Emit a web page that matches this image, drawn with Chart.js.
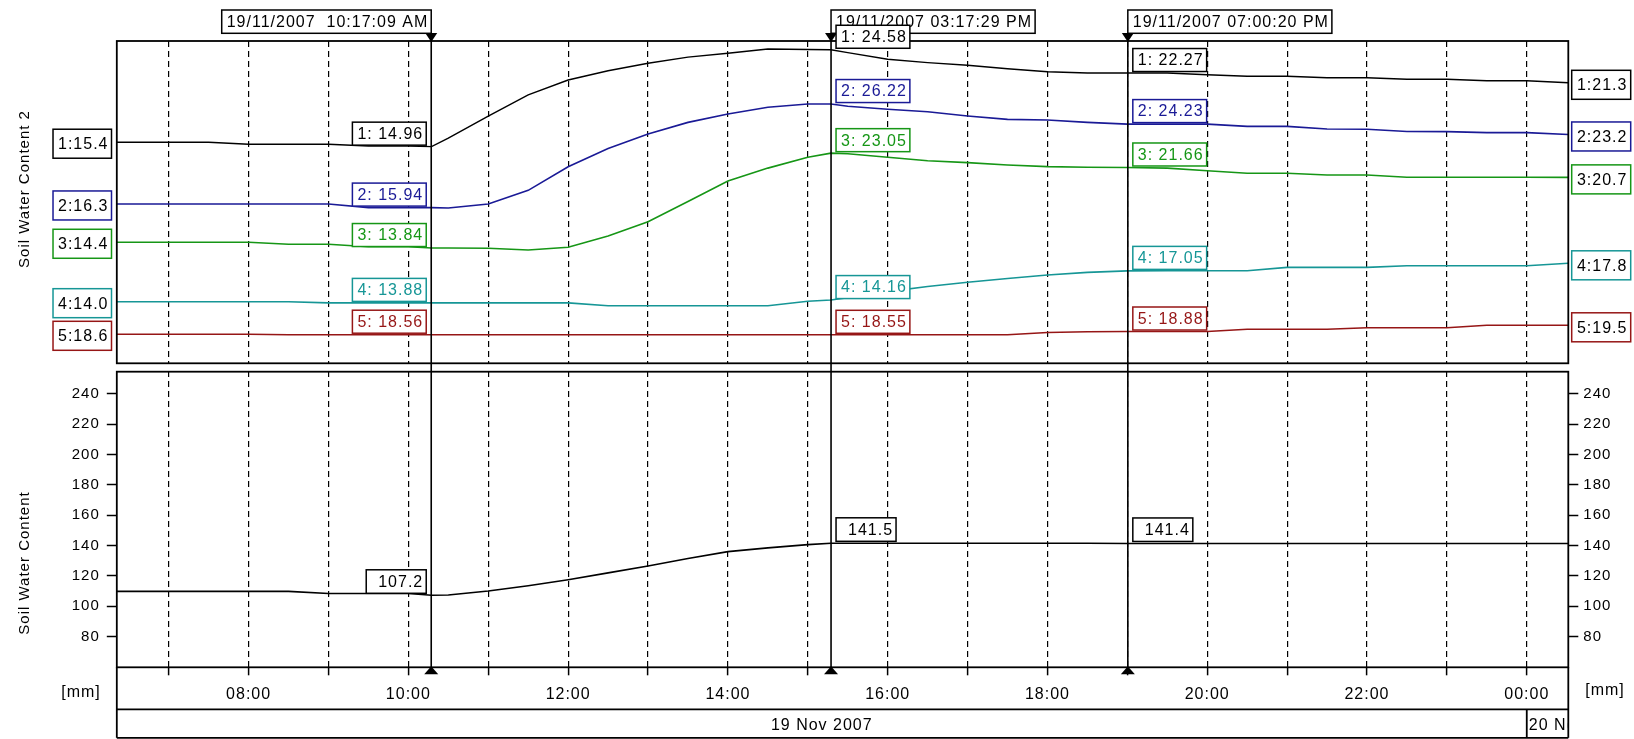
<!DOCTYPE html>
<html>
<head>
<meta charset="utf-8">
<script src="https://cdn.jsdelivr.net/npm/chart.js@4.4.1/dist/chart.umd.min.js"></script>
<style>
  html, body { margin: 0; padding: 0; background: #fff; }
  #wrap { position: relative; width: 1634px; height: 739px; overflow: hidden; }
  canvas { display: block; }
</style>
</head>
<body>
<div id="wrap"><canvas id="c" width="1634" height="739"></canvas></div>
<script>
// ---------------- data ----------------
const hours = [6.35, 7, 7.5, 8, 8.5, 9, 9.5, 10, 10.29, 10.5, 11, 11.5, 12, 12.5, 13, 13.5, 14, 14.5, 15, 15.29,
  15.5, 16, 16.5, 17, 17.5, 18, 18.5, 19, 19.5, 20, 20.5, 21, 21.5, 22, 22.5, 23, 23.5, 24, 24.52];

const sensor1 = [15.4, 15.4, 15.4, 15.2, 15.2, 15.2, 15.03, 15.03, 14.96, 15.8, 18.0, 20.1, 21.58, 22.5, 23.24, 23.85, 24.24, 24.65, 24.6, 24.58,
  24.3, 23.64, 23.3, 23.04, 22.7, 22.4, 22.27, 22.27, 22.27, 22.1, 21.95, 21.95, 21.8, 21.8, 21.65, 21.65, 21.5, 21.5, 21.3];
const sensor2 = [16.3, 16.3, 16.3, 16.3, 16.3, 16.3, 15.94, 15.94, 15.94, 15.9, 16.3, 17.65, 20.0, 21.8, 23.25, 24.4, 25.24, 25.9, 26.23, 26.22,
  26.0, 25.7, 25.45, 25.04, 24.7, 24.64, 24.4, 24.23, 24.23, 24.23, 24.0, 24.0, 23.75, 23.72, 23.5, 23.48, 23.38, 23.38, 23.2];
const sensor3 = [14.4, 14.4, 14.4, 14.4, 14.21, 14.21, 13.97, 13.97, 13.84, 13.84, 13.82, 13.65, 13.91, 15.0, 16.4, 18.35, 20.35, 21.6, 22.65, 23.05,
  23.0, 22.65, 22.32, 22.13, 21.9, 21.74, 21.68, 21.66, 21.6, 21.35, 21.1, 21.1, 20.93, 20.93, 20.71, 20.71, 20.71, 20.71, 20.7];
const sensor4 = [14.0, 14.0, 14.0, 14.0, 14.0, 13.88, 13.88, 13.88, 13.88, 13.88, 13.88, 13.88, 13.88, 13.6, 13.6, 13.6, 13.6, 13.6, 14.05, 14.16,
  14.4, 15.0, 15.5, 15.92, 16.3, 16.64, 16.9, 17.05, 17.07, 17.07, 17.07, 17.4, 17.4, 17.4, 17.56, 17.56, 17.56, 17.56, 17.8];
const sensor5 = [18.6, 18.6, 18.6, 18.6, 18.56, 18.56, 18.56, 18.56, 18.56, 18.56, 18.56, 18.56, 18.56, 18.56, 18.55, 18.55, 18.55, 18.55, 18.55, 18.55,
  18.55, 18.55, 18.55, 18.55, 18.55, 18.78, 18.85, 18.88, 18.88, 18.88, 19.1, 19.1, 19.1, 19.26, 19.26, 19.26, 19.5, 19.5, 19.5];
const soilWater = [109.8, 109.8, 109.8, 109.8, 109.8, 108.4, 108.4, 108.4, 107.2, 107.4, 110.0, 113.5, 117.5, 122.0, 126.5, 131.5, 136.0, 138.5, 140.6, 141.5,
  141.5, 141.5, 141.5, 141.5, 141.5, 141.5, 141.5, 141.4, 141.4, 141.4, 141.4, 141.4, 141.4, 141.4, 141.4, 141.4, 141.4, 141.4, 141.4];

const hourTicks = [7, 8, 9, 10, 11, 12, 13, 14, 15, 16, 17, 18, 19, 20, 21, 22, 23, 24];
const swcTicks = [80, 100, 120, 140, 160, 180, 200, 220, 240];

const cursorHours = [10.286, 15.291, 19.006];
const cursorStamps = ['19/11/2007  10:17:09 AM', '19/11/2007 03:17:29 PM', '19/11/2007 07:00:20 PM'];
const cursorSensor1 = [14.96, 24.58, 22.27];
const cursorSensor2 = [15.94, 26.22, 24.23];
const cursorSensor3 = [13.84, 23.05, 21.66];
const cursorSensor4 = [13.88, 14.16, 17.05];
const cursorSensor5 = [18.56, 18.55, 18.88];
const cursorSoil = [107.2, 141.5, 141.4];
const startLabels = ['15.4', '16.3', '14.4', '14.0', '18.6'];
const endLabels = ['21.3', '23.2', '20.7', '17.8', '19.5'];
const dayLabels = ['19 Nov 2007', '20 Nov 2007'];

// value window of each upper sensor inside the upper panel, and of the lower panel
const sensorWindows = [[-6.55, 25.45], [0.48, 32.48], [2.65, 33.94], [7.90, 39.81], [15.7, 47.93]];
const soilWindow = [59.7, 254.7];
const timeWindow = [6.35, 24.52];

// ---------------- style / layout ----------------
const FONT = '"Liberation Sans", Arial, sans-serif';
const SPACING = '1px';
const sensorColors = ['#000000', '#1a1a96', '#169616', '#169696', '#961616'];
const G = { W: 1634, H: 739, left: 116.8, right: 1568.3, top: 41, upperBottom: 363.3, lowerTop: 371.7,
  bottom: 667.3, rowMid: 709.3, rowBottom: 737.8 };

function upperRange(w) {
  const k = (G.bottom - G.upperBottom) / (G.upperBottom - G.top);
  return { min: w[0] - k * (w[1] - w[0]), max: w[1] };
}
function lowerRange(w) {
  const k = (G.lowerTop - G.top) / (G.bottom - G.lowerTop);
  return { min: w[0], max: w[1] + k * (w[1] - w[0]) };
}

Chart.defaults.font.family = FONT;
Chart.defaults.color = '#000';

const sensorSeries = [sensor1, sensor2, sensor3, sensor4, sensor5];
const cursorSensor = [cursorSensor1, cursorSensor2, cursorSensor3, cursorSensor4, cursorSensor5];

const datasets = sensorSeries.map((vals, k) => ({
  data: hours.map((h, i) => ({ x: h, y: vals[i] })),
  yAxisID: 'u' + (k + 1),
  borderColor: sensorColors[k],
  borderWidth: k === 0 ? 1.4 : 1.6,
  pointRadius: 0, tension: 0, fill: false
}));
datasets.push({
  data: hours.map((h, i) => ({ x: h, y: soilWater[i] })),
  yAxisID: 'y', borderColor: '#000', borderWidth: 1.6, pointRadius: 0, tension: 0, fill: false
});

const lr = lowerRange(soilWindow);
const scales = {
  x: {
    type: 'linear', position: 'bottom', min: timeWindow[0], max: timeWindow[1],
    afterFit: s => { s.height = G.H - G.bottom; },
    afterBuildTicks: s => { s.ticks = hourTicks.map(v => ({ value: v })); },
    ticks: {
      autoSkip: false, maxRotation: 0, minRotation: 0, padding: 10, color: '#000', font: { size: 16 },
      callback: v => (v % 2 === 0 ? String(v % 24).padStart(2, '0') + ':00' : '')
    },
    grid: { color: '#000', lineWidth: 1.2, drawOnChartArea: true, drawTicks: true, tickLength: 8, tickColor: '#000', tickWidth: 1.5 },
    border: { display: false, dash: [6, 4] }
  },
  y: {
    type: 'linear', position: 'left', min: lr.min, max: lr.max,
    afterFit: s => { s.width = G.left; },
    afterBuildTicks: s => { s.ticks = swcTicks.map(v => ({ value: v })); },
    ticks: { padding: 7, color: '#000', font: { size: 15 } },
    grid: { drawOnChartArea: false, drawTicks: true, tickLength: 10, tickColor: '#000', tickWidth: 1.5 },
    border: { display: false }
  },
  y2: {
    type: 'linear', position: 'right', min: lr.min, max: lr.max,
    afterFit: s => { s.width = G.W - G.right; },
    afterBuildTicks: s => { s.ticks = swcTicks.map(v => ({ value: v })); },
    ticks: { padding: 5, color: '#000', font: { size: 15 } },
    grid: { drawOnChartArea: false, drawTicks: true, tickLength: 10, tickColor: '#000', tickWidth: 1.5 },
    border: { display: false }
  }
};
sensorWindows.forEach((w, k) => {
  const r = upperRange(w);
  scales['u' + (k + 1)] = { type: 'linear', display: false, position: 'left', min: r.min, max: r.max };
});

// ---------------- drawing helpers ----------------
function seg(ctx, x1, y1, x2, y2) { ctx.beginPath(); ctx.moveTo(x1, y1); ctx.lineTo(x2, y2); ctx.stroke(); }
function labelBox(ctx, str, x, yTop, h, anchor, boxColor, textColor, minW, align) {
  const tw = ctx.measureText(str).width;
  const w = Math.max(tw + 8, minW || 0);
  const bx = anchor === 'right' ? x - w : x;
  ctx.fillStyle = '#fff';
  ctx.fillRect(bx, yTop, w, h);
  ctx.strokeStyle = boxColor; ctx.lineWidth = 1.5;
  ctx.strokeRect(bx, yTop, w, h);
  ctx.fillStyle = textColor; ctx.textBaseline = 'middle';
  if (align === 'right') { ctx.textAlign = 'right'; ctx.fillText(str, bx + w - 3, yTop + h / 2 + 1); }
  else { ctx.textAlign = 'left'; ctx.fillText(str, bx + (w - tw) / 2 + 1, yTop + h / 2 + 1); }
}

const overlay = {
  id: 'overlay',
  beforeDraw(chart) {
    const c = chart.ctx;
    c.save(); c.fillStyle = '#fff'; c.fillRect(0, 0, chart.width, chart.height); c.restore();
    c.letterSpacing = SPACING;
  },
  beforeDatasetsDraw(chart) {
    const c = chart.ctx;
    c.save(); c.fillStyle = '#fff';
    c.fillRect(G.left - 1, G.upperBottom, G.right - G.left + 2, G.lowerTop - G.upperBottom);
    c.restore();
  },
  afterDraw(chart) {
    const ctx = chart.ctx, xs = chart.scales.x;
    ctx.save();
    ctx.letterSpacing = SPACING;
    ctx.strokeStyle = '#000'; ctx.lineWidth = 1.8;
    const L = G.left, R = G.right;
    // frames
    ctx.strokeRect(L, G.top, R - L, G.upperBottom - G.top);
    ctx.strokeRect(L, G.lowerTop, R - L, G.bottom - G.lowerTop);
    seg(ctx, L, G.bottom, L, G.rowBottom);
    seg(ctx, R, G.bottom, R, G.rowBottom);
    seg(ctx, L, G.rowMid, R, G.rowMid);
    seg(ctx, L, G.rowBottom, R, G.rowBottom);
    const xDay = xs.getPixelForValue(24);
    seg(ctx, xDay, G.rowMid, xDay, G.rowBottom);

    ctx.font = '16px ' + FONT; ctx.fillStyle = '#000'; ctx.textBaseline = 'middle';
    ctx.textAlign = 'center';
    ctx.fillText(dayLabels[0], (L + xDay) / 2, 726);
    ctx.save();
    ctx.beginPath(); ctx.rect(xDay + 1, G.rowMid + 1, R - xDay - 2, G.rowBottom - G.rowMid - 2); ctx.clip();
    ctx.textAlign = 'left';
    ctx.fillText(dayLabels[1], xDay + 2, 726);
    ctx.restore();

    // units
    ctx.textAlign = 'center';
    ctx.fillText('[mm]', 81, 693);
    ctx.fillText('[mm]', 1605, 691);

    // axis titles
    ctx.font = '15px ' + FONT;
    [['Soil Water Content 2', 189], ['Soil Water Content', 563]].forEach(([t, cy]) => {
      ctx.save(); ctx.translate(25, cy); ctx.rotate(-Math.PI / 2);
      ctx.textAlign = 'center'; ctx.textBaseline = 'middle'; ctx.fillText(t, 0, 0);
      ctx.restore();
    });

    // cursors
    ctx.strokeStyle = '#000'; ctx.lineWidth = 1.6; ctx.fillStyle = '#000';
    cursorHours.forEach(t => {
      const x = xs.getPixelForValue(t);
      seg(ctx, x, G.top, x, G.bottom);
      ctx.beginPath(); ctx.moveTo(x - 6, G.top - 8); ctx.lineTo(x + 6, G.top - 8); ctx.lineTo(x, G.top + 1); ctx.closePath(); ctx.fill();
      ctx.beginPath(); ctx.moveTo(x - 7, G.bottom + 7); ctx.lineTo(x + 7, G.bottom + 7); ctx.lineTo(x, G.bottom - 1); ctx.closePath(); ctx.fill();
    });

    ctx.font = '16px ' + FONT;
    // time stamps
    cursorHours.forEach((t, j) => {
      const x = xs.getPixelForValue(t);
      labelBox(ctx, cursorStamps[j], x, 10, 23.3, j === 0 ? 'right' : 'left', '#000', '#000', 0, 'center');
    });

    // sensor values at cursors
    cursorHours.forEach((t, j) => {
      const x = xs.getPixelForValue(t);
      sensorSeries.forEach((_, k) => {
        const v = cursorSensor[k][j];
        const py = chart.scales['u' + (k + 1)].getPixelForValue(v);
        const str = (k + 1) + ': ' + v.toFixed(2);
        if (j === 0) labelBox(ctx, str, x - 5, py - 24.5, 23, 'right', sensorColors[k], sensorColors[k], 0, 'center');
        else labelBox(ctx, str, x + 5, py - 24.5, 23, 'left', sensorColors[k], sensorColors[k], 0, 'center');
      });
      const py = chart.scales.y.getPixelForValue(cursorSoil[j]);
      const str = cursorSoil[j].toFixed(1);
      if (j === 0) labelBox(ctx, str, x - 5, py - 25.5, 23.5, 'right', '#000', '#000', 60, 'right');
      else labelBox(ctx, str, x + 5, py - 25.5, 23.5, 'left', '#000', '#000', 60, 'right');
    });

    // start / end labels
    sensorSeries.forEach((_, k) => {
      const sc = chart.scales['u' + (k + 1)];
      const y0 = sc.getPixelForValue(parseFloat(startLabels[k]));
      const y1 = sc.getPixelForValue(parseFloat(endLabels[k]));
      labelBox(ctx, (k + 1) + ':' + startLabels[k], L - 5.3, y0 - 13, 29, 'right', sensorColors[k], '#000', 58, 'center');
      labelBox(ctx, (k + 1) + ':' + endLabels[k], R + 3.4, y1 - 12.5, 29, 'left', sensorColors[k], '#000', 59, 'center');
    });
    ctx.restore();
  }
};

new Chart(document.getElementById('c'), {
  type: 'line',
  data: { datasets },
  options: {
    responsive: false, animation: false, devicePixelRatio: 1, events: [],
    layout: { padding: { top: G.top, left: 0, right: 0, bottom: 0 }, autoPadding: false },
    plugins: { legend: { display: false }, tooltip: { enabled: false } },
    scales
  },
  plugins: [overlay]
});
</script>
</body>
</html>
